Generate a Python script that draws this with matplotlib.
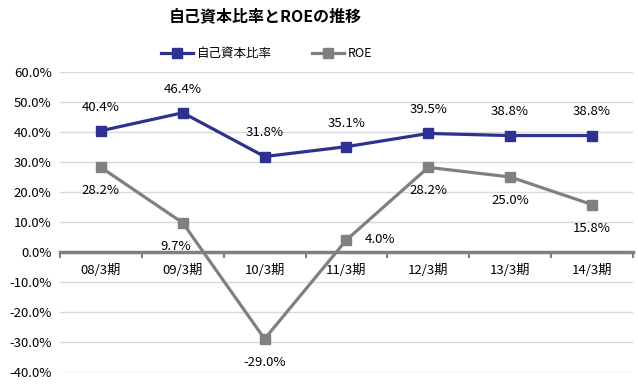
import matplotlib
matplotlib.use("Agg")
import matplotlib.pyplot as plt
import numpy as np

plt.rcParams['font.family'] = ['Noto Sans CJK JP', 'DejaVu Sans']

categories = ["08/3期", "09/3期", "10/3期", "11/3期", "12/3期", "13/3期", "14/3期"]
equity_ratio = [40.4, 46.4, 31.8, 35.1, 39.5, 38.8, 38.8]
roe = [28.2, 9.7, -29.0, 4.0, 28.2, 25.0, 15.8]
yticks = [60, 50, 40, 30, 20, 10, 0, -10, -20, -30, -40]

blue = "#2E3192"
gray = "#808080"

fig = plt.figure(figsize=(6.38, 3.87), dpi=100)
ax = fig.add_axes([0.094, 0.039, 0.898, 0.775])

x = np.arange(len(categories))
ax.plot(x, equity_ratio, color=blue, lw=2.3, marker='s', ms=6.5, label="自己資本比率", zorder=4)
ax.plot(x, roe, color=gray, lw=2.3, marker='s', ms=6.5, label="ROE", zorder=3)

for xi, v in zip(x, equity_ratio):
    ax.annotate(f"{v:.1f}%", (xi, v), xytext=(0, 17), textcoords='offset points',
                ha='center', va='center', fontsize=9.5)

roe_offsets = [(0, -17), (-5, -17), (0, -17), (24, 0), (0, -17), (0, -17), (0, -17)]
for xi, v, off in zip(x, roe, roe_offsets):
    ax.annotate(f"{v:.1f}%", (xi, v), xytext=off, textcoords='offset points',
                ha='center', va='center', fontsize=9.5)

ax.set_xlim(-0.5, len(categories) - 0.5)
ax.set_ylim(-40, 60)
ax.set_yticks(yticks)
ax.set_yticklabels([f"{t:.1f}%" for t in yticks], fontsize=9.5)
ax.grid(axis='y', color='#D9D9D9', lw=1)
ax.set_axisbelow(True)

for s in ['top', 'right', 'left']:
    ax.spines[s].set_visible(False)
ax.spines['bottom'].set_position(('data', 0))
ax.spines['bottom'].set_color(gray)
ax.spines['bottom'].set_linewidth(2.5)
ax.spines['bottom'].set_zorder(2)

ax.set_xticks(x)
ax.set_xticklabels(categories, fontsize=9.5)
ax.set_xticks(np.arange(-0.5, len(categories)), minor=True)
ax.tick_params(axis='x', which='major', length=0, pad=9)
ax.tick_params(axis='x', which='minor', length=4, width=1.5, color=gray, direction='out')
ax.tick_params(axis='y', length=0, pad=6)

fig.text(0.416, 0.958, "自己資本比率とROEの推移", ha='center', va='center',
         fontsize=11.5, fontweight='bold')
fig.legend(loc='center', bbox_to_anchor=(0.418, 0.862), ncol=2, frameon=False,
           fontsize=9, handlelength=2.6, columnspacing=3.2, handletextpad=0.3)

fig.savefig("out.png", dpi=100)
